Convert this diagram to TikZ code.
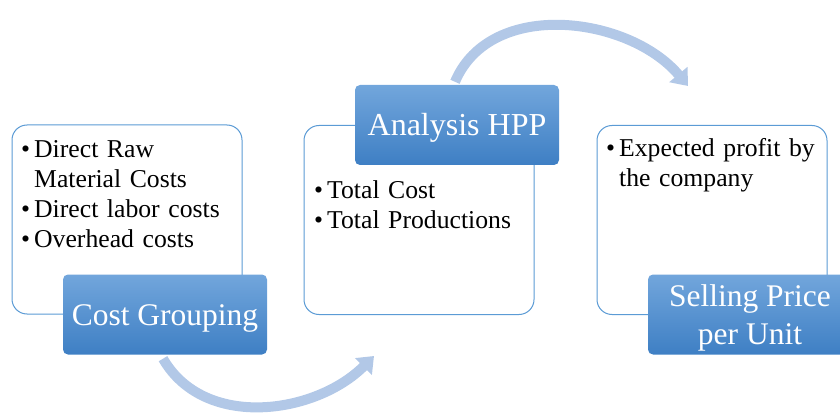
\documentclass[tikz,border=0pt]{standalone}
\usepackage{fontspec}
\setmainfont{Liberation Serif}
\usepackage{xcolor}
\usetikzlibrary{arrows.meta, calc, positioning}
\definecolor{boxline}{RGB}{91,155,213}
\definecolor{labtop}{RGB}{114,166,220}
\definecolor{labbot}{RGB}{62,127,196}
\definecolor{arrowblue}{RGB}{178,200,231}
\newcommand{\bul}[1]{\makebox[13pt][l]{\textbullet}#1\par}
\newcommand{\cont}[1]{\hspace*{13pt}#1\par}

\begin{document}
\begin{tikzpicture}[x=1pt, y=-1pt,
    infobox/.style={rectangle, draw=boxline, line width=1pt, fill=white, rounded corners=15pt, minimum width=230pt, minimum height=189pt, inner sep=0pt},
    titlebox/.style={rectangle, top color=labtop, bottom color=labbot, draw=none, rounded corners=5pt, minimum width=204pt, minimum height=80pt, text=white, align=center, inner sep=0pt},
    oneline/.style={text height=21pt, text depth=0pt},
    listtext/.style={anchor=north west, inner sep=0pt, text width=215pt, align=left, font=\fontsize{25.7}{30}\selectfont},
    flow/.style={line width=10pt, draw=arrowblue, -{Triangle[length=15pt, width=23pt]}}]
    \useasboundingbox (0,0) rectangle (840,414);

    \node[infobox] (box1) at (127,219.5) {};
    \node[infobox] (box2) at (419,220) {};
    \node[infobox] (box3) at (712,220) {};

    \node[listtext] (list1) at (21,140) {\bul{Direct Raw}\cont{Material Costs}\bul{Direct labor costs}\bul{Overhead costs}};
    \node[listtext] (list2) at (314,180) {\bul{Total Cost}\bul{Total Productions}};
    \node[listtext] (list3) at (606,138) {\bul{Expected profit by}\cont{the company}};

    \node[titlebox, oneline, font=\fontsize{31.5}{34}\selectfont] (lab1) at (165,314.5) {Cost Grouping};
    \node[titlebox, oneline, font=\fontsize{32}{34}\selectfont] (lab2) at (457,125) {Analysis HPP};
    \node[titlebox, text depth=0pt, font=\fontsize{31.5}{34}\selectfont] (lab3) at (750,314.5) {Selling Price\\[4pt]per Unit};

    % curved arrows between the steps
    \coordinate (a1s) at ([xshift=-2pt,yshift=-4pt]lab1.south);
    \coordinate (a1e) at (374,356);
    \coordinate (a2s) at ([xshift=-2pt,yshift=3pt]lab2.north);
    \coordinate (a2e) at (688,86);
    \draw[flow] (a1s) to[out=-60, in=-135] (a1e);
    \draw[flow] (a2s) to[out=67, in=130] (a2e);
\end{tikzpicture}
\end{document}
